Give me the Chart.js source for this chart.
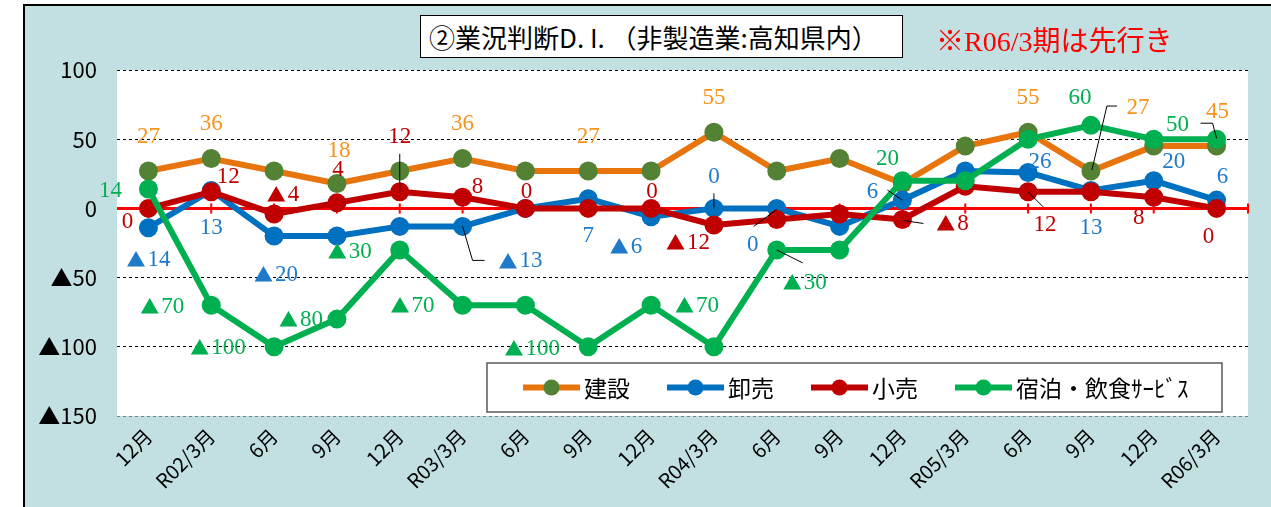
<!DOCTYPE html>
<html>
<head>
<meta charset="utf-8">
<script src="https://cdn.jsdelivr.net/npm/chart.js@4.4.1/dist/chart.umd.min.js"></script>
<style>
html, body { margin: 0; padding: 0; background: #fff; width: 1271px; height: 507px; overflow: hidden; }
#frame { position: absolute; left: 23px; top: 4px; width: 1300px; height: 600px; border: 2px solid #000; background: #c2e0e2; }
#chart { position: absolute; left: 0; top: 0; }
#title { position: absolute; left: 420px; top: 15px; width: 473px; height: 41px; padding-left: 8px; border: 1.5px solid #000; background: #fff;
         font-family: "Noto Sans CJK JP"; font-size: 26px; line-height: 41px; white-space: nowrap; }
#note { position: absolute; left: 936px; top: 24px; color: #ff0000; font-family: "Liberation Serif", "DejaVu Serif", serif, "Noto Sans CJK JP"; font-size: 28px; line-height: 36px; white-space: nowrap; }
</style>
</head>
<body>
<div id="frame"></div>
<canvas id="chart" width="1271" height="507"></canvas>
<div id="title">②業況判断D. I. （非製造業:高知県内）</div>
<div id="note">※R06/3期は先行き</div>
<script>
// --- data ---
const categories = ['12月', 'R02/3月', '6月', '9月', '12月', 'R03/3月', '6月', '9月', '12月', 'R04/3月', '6月', '9月', '12月', 'R05/3月', '6月', '9月', '12月', 'R06/3月'];
const kensetsu  = [27, 36, 27, 18, 27, 36, 27, 27, 27, 55, 27, 36, 18, 45, 55, 27, 45, 45];
const oroshi    = [-14, 13, -20, -20, -13, -13, 0, 7, -6, 0, 0, -13, 6, 27, 26, 13, 20, 6];
const kouri     = [0, 12, -4, 4, 12, 8, 0, 0, 0, -12, -8, -4, -8, 16, 12, 12, 8, 0];
const shukuhaku = [14, -70, -100, -80, -30, -70, -70, -100, -70, -100, -30, -30, 20, 20, 50, 60, 50, 50];
const yMin = -150, yMax = 100, yStep = 50;

// --- label placement (pixel offsets from the point, null = no label) ---
const labelOffsets = [
    [[0,-34],[0,-35],null,[2,-33],null,[0,-35],null,[0,-34],null,[0,-34],null,null,null,null,[0,-34],[47,-63],null,[1,-34]],
    [[0,32],[0,38],[2,39],null,null,[58,35],null,[0,37],[-25,30],[0,-31],[-24,37],null,[-30,-8],null,[12,-10],[0,38],[20,-19],[6,-23]],
    [[-21,14],[17,-15],[9,-19],[1,-33],[0,-55],[15,-10],[1,-16],null,[1,-16],[-26,18],null,null,[50,4],null,[17,33],null,[-15,21],[-8,29]],
    [[-38,2],[-49,2],[-56,1],[-36,1],[-50,2],[-50,1],null,[-56,2],[46,1],null,[28,33],null,[-15,-22],null,null,[-11,-27],null,[-39,-14]]
];
const leaderLines = [
    { 15: [[1,-1],[16,-65],[26,-65]] },
    { 5: [[0,0],[10,34],[22,34]], 9: [[0,-15],[0,0]], 10: [[-23,18],[0,1]], 12: [[-15,-10],[0,0]] },
    { 4: [[0,-38],[0,0]], 12: [[1,1],[21,4]], 14: [[0,0],[15,15]] },
    { 10: [[0,0],[26,13]], 17: [[-16,-16],[-4,-16],[0,-1]] }
];
const labelColors = ['#F7941D', '#1F7AC9', '#C00000', '#00B050'];

const fmt = v => v < 0 ? '▲' + (-v) : String(v);
const numFont = '23px "Liberation Serif", "DejaVu Serif", serif';
const triFont = '19px "Noto Sans CJK JP"';

// white plot area + red zero line with small ticks
const plotBg = {
    id: 'plotBg',
    beforeDraw(chart) {
        const { ctx, chartArea: a } = chart;
        ctx.save();
        ctx.fillStyle = '#fff';
        ctx.fillRect(a.left, a.top, a.right - a.left, a.bottom - a.top);
        ctx.restore();
    },
    beforeDatasetsDraw(chart) {
        const { ctx, chartArea: a, scales } = chart;
        const y0 = scales.y.getPixelForValue(0);
        ctx.save();
        ctx.strokeStyle = '#ff0000';
        ctx.lineWidth = 3;
        ctx.beginPath();
        ctx.moveTo(a.left, y0);
        ctx.lineTo(a.right, y0);
        ctx.stroke();
        ctx.lineWidth = 2;
        const xs = categories.map((c, i) => scales.x.getPixelForValue(i));
        xs.push(a.right);
        ctx.beginPath();
        xs.forEach(x => { ctx.moveTo(x, y0 - 5); ctx.lineTo(x, y0 + 5); });
        ctx.stroke();
        ctx.restore();
    }
};

// one value label: "▲" in a gothic face, digits in a serif face, centred as a whole
function drawValue(ctx, v, cx, cy) {
    const digits = String(Math.abs(v));
    const gap = 2;
    ctx.font = numFont;
    const wd = ctx.measureText(digits).width;
    let wt = 0;
    if (v < 0) {
        ctx.font = triFont;
        wt = ctx.measureText('▲').width + gap;
    }
    let x = cx - (wd + wt) / 2;
    ctx.textAlign = 'left';
    ctx.textBaseline = 'middle';
    if (v < 0) {
        ctx.font = triFont;
        ctx.fillText('▲', x, cy);
        x += wt;
    }
    ctx.font = numFont;
    ctx.fillText(digits, x, cy);
}

// data labels, leader lines and the boxed legend
const annotate = {
    id: 'annotate',
    afterDatasetsDraw(chart) {
        const { ctx } = chart;
        ctx.save();
        chart.data.datasets.forEach((ds, d) => {
            const meta = chart.getDatasetMeta(d);
            meta.data.forEach((pt, i) => {
                const leader = leaderLines[d][i];
                if (leader) {
                    ctx.strokeStyle = '#000';
                    ctx.lineWidth = 1;
                    ctx.beginPath();
                    leader.forEach(([dx, dy], k) => k ? ctx.lineTo(pt.x + dx, pt.y + dy) : ctx.moveTo(pt.x + dx, pt.y + dy));
                    ctx.stroke();
                }
            });
        });
        chart.data.datasets.forEach((ds, d) => {
            const meta = chart.getDatasetMeta(d);
            ctx.fillStyle = labelColors[d];
            meta.data.forEach((pt, i) => {
                const off = labelOffsets[d][i];
                if (!off) return;
                drawValue(ctx, ds.data[i], pt.x + off[0], pt.y + off[1]);
            });
        });

        // legend box
        const box = { left: 487, top: 363, width: 735, height: 49 };
        ctx.fillStyle = '#fff';
        ctx.fillRect(box.left, box.top, box.width, box.height);
        ctx.strokeStyle = '#595959';
        ctx.lineWidth = 1.5;
        ctx.strokeRect(box.left, box.top, box.width, box.height);
        ctx.font = '23px "Noto Sans CJK JP"';
        ctx.textAlign = 'left';
        ctx.textBaseline = 'middle';
        let x = box.left + 36;
        const y = box.top + box.height / 2;
        chart.data.datasets.forEach(ds => {
            ctx.strokeStyle = ds.borderColor;
            ctx.lineWidth = 6;
            ctx.beginPath();
            ctx.moveTo(x, y);
            ctx.lineTo(x + 57, y);
            ctx.stroke();
            ctx.fillStyle = ds.pointBackgroundColor;
            ctx.beginPath();
            ctx.arc(x + 28.5, y, 8, 0, Math.PI * 2);
            ctx.fill();
            ctx.fillStyle = '#000';
            ctx.fillText(ds.label, x + 61, y + 1);
            x += 61 + ctx.measureText(ds.label).width + 37;
        });
        ctx.restore();
    }
};

const ctx = document.getElementById('chart').getContext('2d');
window.diChart = new Chart(ctx, {
    type: 'line',
    data: {
        labels: categories,
        datasets: [
            { label: '建設', data: kensetsu, borderColor: '#E8740E', pointBackgroundColor: '#548235', pointBorderColor: '#548235', order: 4 },
            { label: '卸売', data: oroshi, borderColor: '#0070C0', pointBackgroundColor: '#0070C0', pointBorderColor: '#0070C0', order: 3 },
            { label: '小売', data: kouri, borderColor: '#C00000', pointBackgroundColor: '#C00000', pointBorderColor: '#C00000', order: 2 },
            { label: '宿泊・飲食ｻｰﾋﾞｽ', data: shukuhaku, borderColor: '#00B050', pointBackgroundColor: '#00B050', pointBorderColor: '#00B050', order: 1 }
        ]
    },
    options: {
        responsive: false,
        animation: false,
        layout: { padding: { left: 0, right: 23, top: 70, bottom: 0 } },
        elements: {
            line: { borderWidth: 6, tension: 0, fill: false, borderJoinStyle: 'round' },
            point: { radius: 9.5, borderWidth: 0, hoverRadius: 9.5 }
        },
        plugins: { legend: { display: false }, tooltip: { enabled: false } },
        scales: {
            x: {
                offset: true,
                grid: { display: false, drawTicks: false },
                border: { display: false },
                ticks: {
                    color: '#000', autoSkip: false, maxRotation: 45, minRotation: 45, padding: 8,
                    font: { family: '"Noto Sans CJK JP"', size: 20 }
                },
                afterFit: s => { s.height = 91; }
            },
            y: {
                min: yMin, max: yMax,
                border: { display: false, dash: [3, 3] },
                grid: {
                    drawTicks: false, lineWidth: 1,
                    color: c => c.tick.value === 0 ? 'rgba(0,0,0,0)' : (c.tick.value === yMin ? '#7f7f7f' : '#000')
                },
                ticks: {
                    stepSize: yStep, padding: 20, color: '#000',
                    font: { family: '"Liberation Sans Narrow", "Noto Sans CJK JP"', size: 22 },
                    callback: v => fmt(v)
                },
                afterFit: s => { s.width = 117; }
            }
        }
    },
    plugins: [plotBg, annotate]
});
</script>
</body>
</html>
